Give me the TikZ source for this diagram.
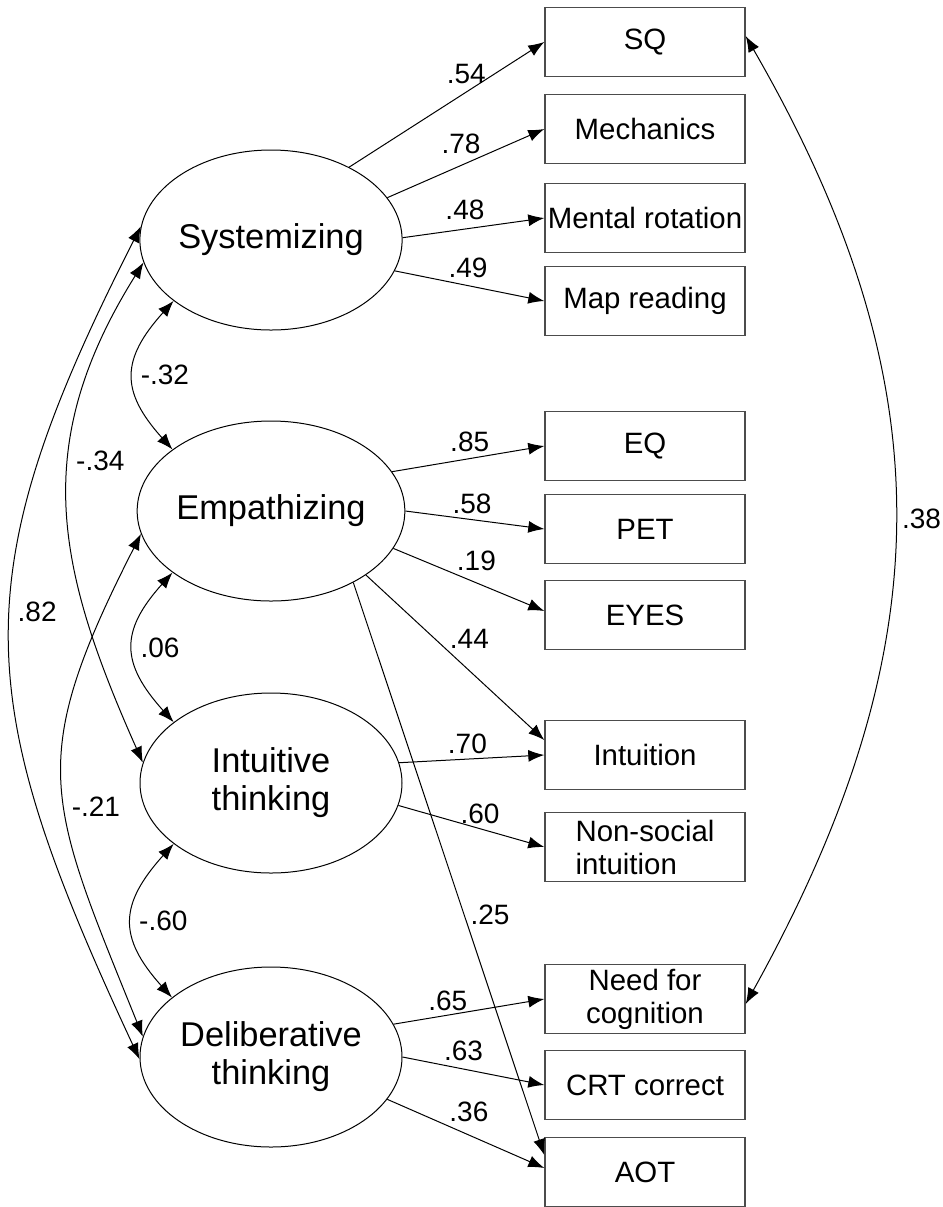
\documentclass[tikz,border=0pt]{standalone}
\usepackage{fontspec}
\setmainfont{Liberation Sans}
\usepackage{tikz}
\usetikzlibrary{shapes,arrows.meta}
\tikzstyle{latent} = [ellipse,minimum width=131pt,minimum height=90pt,inner sep=0pt,align=center,draw=black,line width=0.5pt,font=\fontsize{17.2}{19}\selectfont]
\tikzstyle{observed} = [rectangle,minimum width=100pt,minimum height=34.5pt,inner sep=1pt,align=center,draw=black!70,line width=0.7pt,font=\fontsize{14.7}{16.5}\selectfont]
\tikzstyle{lbl} = [font=\fontsize{14}{16}\selectfont]
\tikzstyle{arrow} = [line width=0.5pt, -{Latex[length=8pt,width=6pt]}]
\tikzstyle{dbl} = [line width=0.5pt, {Latex[length=8pt,width=6pt]}-{Latex[length=8pt,width=6pt]}]

\begin{document}
\begin{tikzpicture}[x=0.5pt,y=-0.5pt]
\useasboundingbox (0,0) rectangle (943,1207);

\node (sys) [latent] at (271,240) {Systemizing};
\node (emp) [latent] at (271,511) {Empathizing};
\node (int) [latent] at (271,783) {Intuitive\\thinking};
\node (del) [latent] at (271,1057) {Deliberative\\thinking};

\node (sq) [observed] at (645,42) {SQ};
\node (mech) [observed] at (645,129) {Mechanics};
\node (mrot) [observed] at (645,218) {Mental rotation};
\node (map) [observed] at (645,301) {Map reading};
\node (eq) [observed] at (645,446) {EQ};
\node (pet) [observed] at (645,529) {PET};
\node (eyes) [observed] at (645,615) {EYES};
\node (intu) [observed] at (645,755) {Intuition};
\node (nsoc) [observed, align=left] at (645,847) {Non-social\\intuition};
\node (nfc) [observed] at (645,999) {Need for\\cognition};
\node (crt) [observed] at (645,1085) {CRT correct};
\node (aot) [observed] at (645,1172) {AOT};

\draw [arrow] (sys.43) -- (sq.west) node[lbl,pos=0.6,yshift=9pt] {.54};
\draw [arrow] (sys.20) -- (mech.west) node[lbl,pos=0.47,yshift=11pt] {.78};
\draw [arrow] (sys.1) -- (mrot.west) node[lbl,pos=0.44,yshift=9.5pt] {.48};
\draw [arrow] (sys.-14) -- (map.west) node[lbl,pos=0.49,yshift=9pt] {.49};

\draw [arrow] (emp.18) -- (eq.west) node[lbl,pos=0.51,yshift=8.5pt] {.85};
\draw [arrow] (emp.0) -- (pet.west) node[lbl,pos=0.48,yshift=8pt] {.58};
\draw [arrow] (emp.-17) -- ([yshift=2pt]eyes.west) node[lbl,pos=0.55,yshift=11pt] {.19};
\draw [arrow] (emp.-34) -- ([yshift=7.5pt]intu.west) node[lbl,pos=0.58,yshift=16pt] {.44};
\draw [arrow] (emp.-41) -- ([yshift=8.5pt]aot.west) node[lbl,pos=0.58,xshift=13pt] {.25};

\draw [arrow] (int.9) -- (intu.west) node[lbl,pos=0.47,yshift=7.5pt] {.70};
\draw [arrow] (int.-10) -- (nsoc.west) node[lbl,pos=0.56,yshift=7.5pt] {.60};

\draw [arrow] (del.15) -- (nfc.west) node[lbl,pos=0.36,yshift=7pt] {.65};
\draw [arrow] (del.0) -- (crt.west) node[lbl,pos=0.43,yshift=9pt] {.63};
\draw [arrow] (del.-20) -- ([yshift=2pt]aot.west) node[lbl,pos=0.52,yshift=11.5pt] {.36};

% correlations
\draw [dbl] (sys.212) to[out=228,in=132,looseness=1.35] node[lbl,right] {-.32} (emp.148);
\draw [dbl] (emp.212) to[out=228,in=132,looseness=1.35] node[lbl,right] {.06} (int.148);
\draw [dbl] (int.212) to[out=228,in=132,looseness=1.35] node[lbl,right] {-.60} (del.149);
\draw [dbl] (sys.190) to[out=238,in=114,looseness=1.1] node[lbl,pos=0.4,right] {-.34} (int.171);
\draw [dbl] (emp.190) to[out=243,in=112,looseness=1.3] node[lbl,pos=0.56,right] {-.21} (del.171);
\draw [dbl] (sys.174) to[out=243,in=115,looseness=1.22] node[lbl,pos=0.46,right] {.82} (del.181);
\draw [dbl] ([yshift=3pt]sq.east) to[out=-60,in=61,looseness=1.07] node[lbl,right] {.38} ([yshift=-2.5pt]nfc.east);

\end{tikzpicture}
\end{document}
